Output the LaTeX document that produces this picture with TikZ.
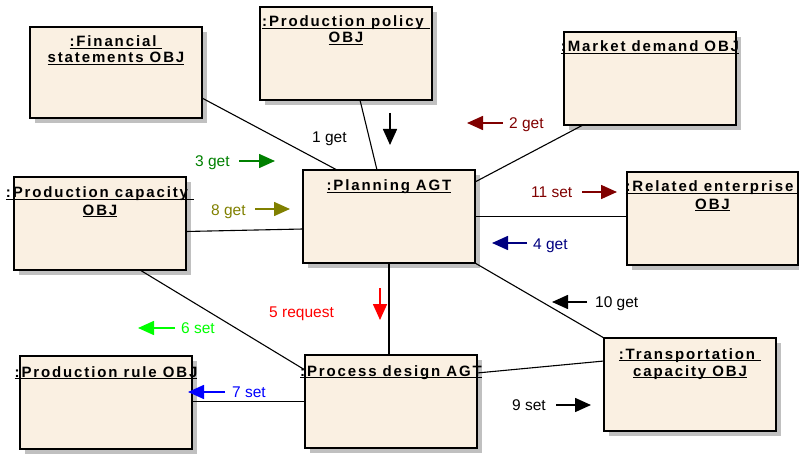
\documentclass[tikz,border=0pt]{standalone}
\usepackage{fontspec}
\setmainfont{Liberation Sans}
\newfontfamily\titlefont[LetterSpace=12.5]{Liberation Sans}
\usetikzlibrary{arrows.meta,shadows}

\definecolor{boxfill}{RGB}{250,240,226}
\definecolor{shadowgray}{RGB}{192,192,192}
\definecolor{msgdarkred}{RGB}{128,0,0}
\definecolor{msggreen}{RGB}{0,128,0}
\definecolor{msgolive}{RGB}{128,128,0}
\definecolor{msgnavy}{RGB}{0,0,128}
\definecolor{msgred}{RGB}{255,0,0}
\definecolor{msglime}{RGB}{0,255,0}
\definecolor{msgblue}{RGB}{0,0,255}

% underline at a fixed depth below the baseline (ignores descenders)
\newsavebox\undlbox
\newcommand\undl[1]{\sbox\undlbox{#1}\rlap{\rule[-1.8pt]{\wd\undlbox}{0.9pt}}\usebox\undlbox}

\tikzset{
  obj/.style={draw=black, line width=1.3pt, fill=boxfill,
    minimum width=172pt, minimum height=93pt, anchor=north west,
    inner sep=0pt, outer sep=0pt,
    drop shadow={shadow xshift=5pt, shadow yshift=-5pt, fill=shadowgray, opacity=1}},
  ttl/.style={anchor=base, inner sep=0pt,
    font=\titlefont\bfseries\fontsize{15}{17}\selectfont},
  link/.style={draw=black, line width=1.1pt},
  msg/.style={anchor=base west, inner sep=0pt, font=\fontsize{15.5}{18}\selectfont},
  msgarrow/.style={line width=1.6pt, -{Triangle[length=16pt,width=14pt]}},
}

\begin{document}
\begin{tikzpicture}[x=1pt,y=-1pt]
\useasboundingbox (0,0) rectangle (799,454);

% ---------- objects ----------
\node[obj, minimum height=91pt] (fin) at (30,27) {};
\node[obj] (pol)   at (260,7)   {};
\node[obj] (mkt)   at (564,32)  {};
\node[obj] (plan)  at (303,170) {};
\node[obj, minimum width=171pt] (rel) at (627,172) {};
\node[obj] (cap)   at (14,177)  {};
\node[obj] (rule)  at (20,356)  {};
\node[obj] (proc)  at (305,355) {};
\node[obj] (trans) at (604,338) {};

% ---------- titles ----------
\node[ttl] (fin-t1)   at ([yshift=-20pt]fin.north)   {\undl{:Financial\ }};
\node[ttl] (fin-t2)   at ([yshift=-36pt]fin.north)   {\undl{statements OBJ}};
\node[ttl] (pol-t1)   at ([yshift=-20pt]pol.north)   {\undl{:Production policy\ }};
\node[ttl] (pol-t2)   at ([yshift=-36pt]pol.north)   {\undl{OBJ}};
\node[ttl] (mkt-t1)   at ([yshift=-20pt]mkt.north)   {\undl{:Market demand OBJ}};
\node[ttl] (plan-t1)  at ([yshift=-21pt]plan.north)  {\undl{:Planning AGT}};
\node[ttl] (rel-t1)   at ([yshift=-20pt]rel.north)   {\undl{:Related enterprise\ }};
\node[ttl] (rel-t2)   at ([yshift=-37pt]rel.north)   {\undl{OBJ}};
\node[ttl] (cap-t1)   at ([yshift=-21pt]cap.north)   {\undl{:Production capacity\ }};
\node[ttl] (cap-t2)   at ([yshift=-38pt]cap.north)   {\undl{OBJ}};
\node[ttl] (rule-t1)  at ([yshift=-21pt]rule.north)  {\undl{:Production rule OBJ}};
\node[ttl] (proc-t1)  at ([yshift=-21pt]proc.north)  {\undl{:Process design AGT}};
\node[ttl] (trans-t1) at ([yshift=-21pt]trans.north) {\undl{:Transportation\ }};
\node[ttl] (trans-t2) at ([yshift=-38pt]trans.north) {\undl{capacity OBJ}};

% ---------- links ----------
\draw[link] ([yshift=20pt]fin.south east) -- ([xshift=34pt]plan.north west);
\draw[link] ([xshift=100pt]pol.south west) -- ([xshift=74pt]plan.north west);
\draw[link] ([xshift=19pt]mkt.south west) -- ([yshift=-12pt]plan.north east);
\draw[link] (plan.east) -- (plan.east -| rel.west);
\draw[link] ([yshift=-8pt]cap.east) -- ([yshift=-12.5pt]plan.west);
\draw[link] ([xshift=126pt]cap.south west) -- ([yshift=-15pt]proc.north west);
\draw[link] (plan.south) -- (plan.south |- proc.north);
\draw[link] (proc.west) -- (proc.west -| rule.east);
\draw[link] ([yshift=-18pt]proc.north east) -- ([yshift=-23pt]trans.north west);
\draw[link] (plan.south east) -- (trans.north west);

% ---------- messages ----------
\node[msg] (m1) at (312,143) {1 get};
\coordinate (a1s) at (390,113); \coordinate (a1e) at (390,145);
\draw[msgarrow, black] (a1s) -- (a1e);

\node[msg, text=msgdarkred] (m2) at (509,128.5) {2 get};
\coordinate (a2s) at (503,123); \coordinate (a2e) at (467,123);
\draw[msgarrow, msgdarkred] (a2s) -- (a2e);

\node[msg, text=msggreen] (m3) at (195,167) {3 get};
\coordinate (a3s) at (239,161); \coordinate (a3e) at (275,161);
\draw[msgarrow, msggreen] (a3s) -- (a3e);

\node[msg, text=msgolive] (m8) at (211,215) {8 get};
\coordinate (a8s) at (255,209); \coordinate (a8e) at (290,209);
\draw[msgarrow, msgolive] (a8s) -- (a8e);

\node[msg, text=msgdarkred] (m11) at (531,197.5) {11 set};
\coordinate (a11s) at (582,192); \coordinate (a11e) at (617,192);
\draw[msgarrow, msgdarkred] (a11s) -- (a11e);

\node[msg, text=msgnavy] (m4) at (533,249.5) {4 get};
\coordinate (a4s) at (527,243); \coordinate (a4e) at (492,243);
\draw[msgarrow, msgnavy] (a4s) -- (a4e);

\node[msg, text=msgred] (m5) at (269,317.5) {5 request};
\coordinate (a5s) at (380,288); \coordinate (a5e) at (380,320);
\draw[msgarrow, msgred] (a5s) -- (a5e);

\node[msg, text=msglime] (m6) at (181,333.5) {6 set};
\coordinate (a6s) at (175,328); \coordinate (a6e) at (138,328);
\draw[msgarrow, msglime] (a6s) -- (a6e);

\node[msg, text=msgblue] (m7) at (232,397.5) {7 set};
\coordinate (a7s) at (225,392); \coordinate (a7e) at (188,392);
\draw[msgarrow, msgblue] (a7s) -- (a7e);

\node[msg] (m10) at (595,307.5) {10 get};
\coordinate (a10s) at (587,302); \coordinate (a10e) at (552,302);
\draw[msgarrow, black] (a10s) -- (a10e);

\node[msg] (m9) at (512,410.5) {9 set};
\coordinate (a9s) at (556,405); \coordinate (a9e) at (591,405);
\draw[msgarrow, black] (a9s) -- (a9e);
\end{tikzpicture}
\end{document}
